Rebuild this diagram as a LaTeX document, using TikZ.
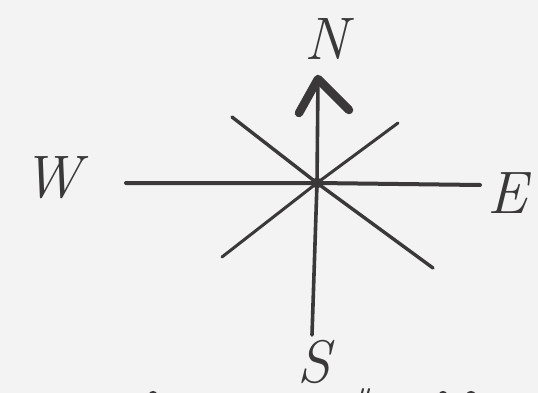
\documentclass[tikz,border=0pt]{standalone}
\usetikzlibrary{calc}
\definecolor{ink}{HTML}{3A3838}
\definecolor{paper}{HTML}{F3F3F3}
\tikzset{
  stroke/.style={draw=ink, line cap=round, line join=round},
  letter/.style={text=ink, inner sep=0pt, font=\fontsize{60}{62}\selectfont\itshape},
}
\begin{document}
\begin{tikzpicture}[x=1pt,y=-1pt]
  \fill[paper] (0,0) rectangle (538,393);
  \useasboundingbox (0,0) rectangle (538,393);
  % coordinates
  \coordinate (c) at (317,183);
  \coordinate (wend) at (126,183);
  \coordinate (eend) at (480,185);
  \coordinate (ntip) at (318,79);
  \coordinate (send) at (312,335);
  \coordinate (nw) at (232,117);
  \coordinate (se) at (433,268);
  \coordinate (ne) at (398,123);
  \coordinate (sw) at (222,257);
  \coordinate (lw) at (299,113);
  \coordinate (rw) at (349,110);
  % lines
  \draw[stroke, line width=4pt] (wend) -- (c) -- (eend);
  \draw[stroke, line width=3.6pt] (ntip) -- (c) -- (send);
  \draw[stroke, line width=3.4pt] (nw) -- (c) -- (se);
  \draw[stroke, line width=3pt] (ne) -- (c) -- (sw);
  \draw[stroke, line width=8.5pt] (lw) -- (ntip) -- (rw);
  \fill[ink] (c) circle (5.5);
  % labels
  \node[letter] (N) at (326,39) {N};
  \node[letter] (W) at (52,178) {W};
  \node[letter] (E) at (507,193) {E};
  \node[letter] (S) at (314,362) {S};
  % cut-off marks at bottom edge
  \fill[ink] (153,394) ellipse (4 and 3);
  \draw[stroke, line width=2pt] (363,389) -- (362,393);
  \draw[stroke, line width=2pt] (369,389) -- (368,393);
  \fill[ink] (443,394) ellipse (4 and 3);
  \fill[ink] (471,394) ellipse (4.5 and 3);
\end{tikzpicture}
\end{document}
